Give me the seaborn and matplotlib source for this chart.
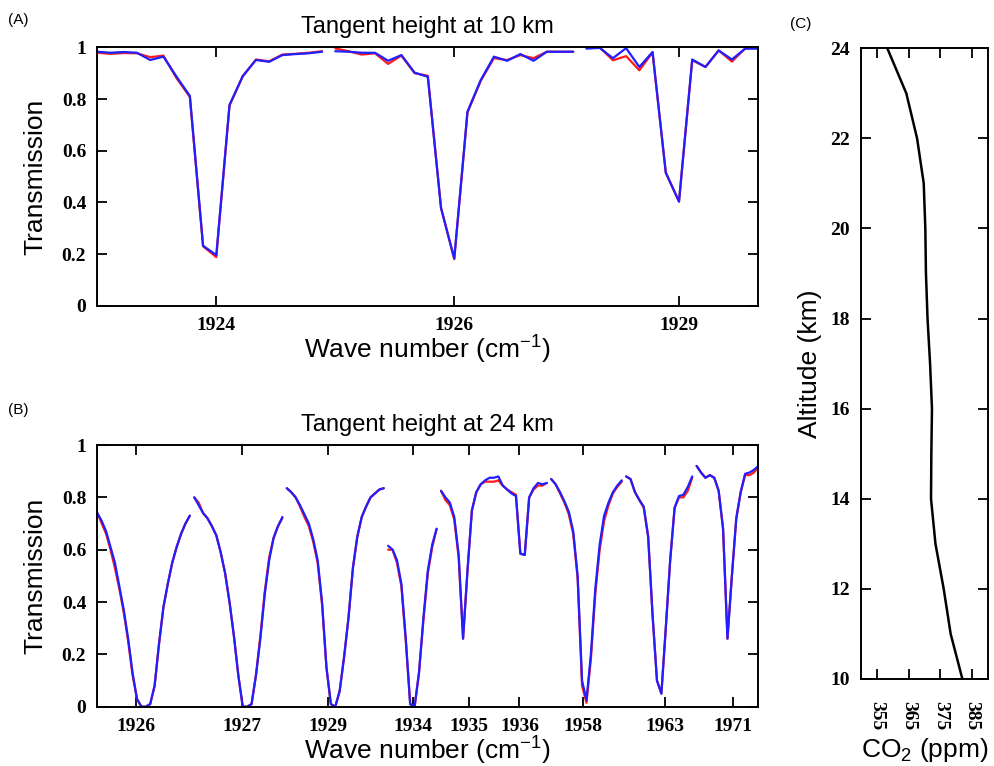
import numpy as np
import pandas as pd
import matplotlib
matplotlib.use("Agg")
import matplotlib.pyplot as plt
import seaborn as sns

# ---------------- data ----------------
# Panel A: tangent height 10 km (three spectral windows, sample-by-sample)
a_blue_segments = [
    [0.983, 0.979, 0.982, 0.979, 0.951, 0.964, 0.886, 0.812, 0.232, 0.196,
     0.777, 0.889, 0.951, 0.944, 0.970, 0.974, 0.977, 0.983],
    [0.985, 0.983, 0.979, 0.979, 0.948, 0.970, 0.902, 0.886, 0.377, 0.183,
     0.751, 0.873, 0.964, 0.948, 0.974, 0.948, 0.983, 0.983, 0.983],
    [0.995, 0.998, 0.958, 0.997, 0.924, 0.982, 0.515, 0.403, 0.953, 0.924,
     0.988, 0.953, 0.995, 0.995],
]
a_red_segments = [
    [0.979, 0.975, 0.978, 0.977, 0.962, 0.968, 0.880, 0.808, 0.230, 0.188,
     0.775, 0.887, 0.953, 0.946, 0.972, 0.975, 0.979, 0.985],
    [0.996, 0.985, 0.972, 0.977, 0.936, 0.968, 0.900, 0.890, 0.380, 0.180,
     0.748, 0.870, 0.958, 0.951, 0.970, 0.958, 0.983, 0.983, 0.983],
    [0.998, 1.000, 0.950, 0.966, 0.911, 0.980, 0.515, 0.403, 0.950, 0.924,
     0.988, 0.945, 0.995, 0.998],
]
a_tick_pos = [9, 27, 44]
a_tick_labels = ["1924", "1926", "1929"]

# Panel B: tangent height 24 km (eight spectral windows)
b_blue_segments = [
    [0.74, 0.71, 0.67, 0.61, 0.55, 0.46, 0.37, 0.26, 0.13, 0.03, 0.0, 0.0,
     0.01, 0.08, 0.24, 0.38, 0.47, 0.55, 0.61, 0.66, 0.70, 0.73],
    [0.80, 0.77, 0.74, 0.72, 0.69, 0.655, 0.59, 0.51, 0.40, 0.27, 0.12, 0.0,
     0.0, 0.01, 0.12, 0.26, 0.43, 0.56, 0.645, 0.69, 0.725],
    [0.835, 0.82, 0.80, 0.77, 0.735, 0.70, 0.64, 0.56, 0.40, 0.15, 0.01, 0.0,
     0.06, 0.19, 0.34, 0.53, 0.65, 0.725, 0.765, 0.80, 0.815, 0.83, 0.835],
    [0.615, 0.60, 0.56, 0.47, 0.26, 0.01, 0.0, 0.13, 0.34, 0.52, 0.62, 0.68],
    [0.825, 0.80, 0.78, 0.725, 0.58, 0.26, 0.52, 0.75, 0.82, 0.85, 0.865,
     0.875, 0.875, 0.88, 0.845, 0.83, 0.815, 0.805, 0.585, 0.58, 0.80, 0.835,
     0.855, 0.85, 0.855],
    [0.87, 0.85, 0.82, 0.785, 0.745, 0.67, 0.50, 0.10, 0.025, 0.20, 0.45,
     0.62, 0.73, 0.78, 0.82, 0.845, 0.865],
    [0.88, 0.87, 0.82, 0.79, 0.765, 0.65, 0.35, 0.10, 0.05, 0.30, 0.56, 0.76,
     0.805, 0.81, 0.84, 0.88],
    [0.92, 0.895, 0.875, 0.885, 0.875, 0.825, 0.68, 0.26, 0.50, 0.72, 0.82,
     0.89, 0.895, 0.905, 0.92],
]
b_red_segments = [
    [0.74, 0.70, 0.66, 0.60, 0.53, 0.45, 0.36, 0.25, 0.12, 0.03, 0.0, 0.0,
     0.01, 0.08, 0.24, 0.38, 0.47, 0.55, 0.61, 0.66, 0.70, 0.73],
    [0.80, 0.78, 0.74, 0.72, 0.69, 0.655, 0.59, 0.51, 0.40, 0.27, 0.12, 0.0,
     0.0, 0.01, 0.12, 0.27, 0.44, 0.57, 0.645, 0.69, 0.72],
    [0.835, 0.82, 0.80, 0.765, 0.725, 0.69, 0.63, 0.55, 0.39, 0.15, 0.01, 0.0,
     0.06, 0.19, 0.34, 0.53, 0.65, 0.725, 0.765, 0.80, 0.815, 0.83, 0.835],
    [0.60, 0.60, 0.55, 0.46, 0.25, 0.01, 0.0, 0.13, 0.33, 0.51, 0.61, 0.68],
    [0.825, 0.79, 0.77, 0.715, 0.57, 0.26, 0.52, 0.75, 0.82, 0.85, 0.86,
     0.86, 0.86, 0.865, 0.845, 0.83, 0.82, 0.81, 0.585, 0.58, 0.80, 0.83,
     0.845, 0.845, 0.855],
    [0.87, 0.85, 0.815, 0.78, 0.735, 0.66, 0.49, 0.08, 0.015, 0.18, 0.43,
     0.60, 0.71, 0.77, 0.815, 0.84, 0.86],
    [0.88, 0.87, 0.82, 0.79, 0.76, 0.65, 0.35, 0.10, 0.05, 0.30, 0.56, 0.76,
     0.80, 0.80, 0.825, 0.875],
    [0.92, 0.895, 0.875, 0.885, 0.875, 0.825, 0.68, 0.26, 0.50, 0.72, 0.82,
     0.885, 0.885, 0.895, 0.915],
]
b_tick_pos = [8.7, 32.9, 52.3, 71.7, 84.3, 95.8, 110.3, 128.8, 144.3]
b_tick_labels = ["1926", "1927", "1929", "1934", "1935", "1936", "1958",
                 "1963", "1971"]

# Panel C: CO2 profile
altitude_km = [10, 11, 12, 13, 14, 15, 16, 17, 18, 19, 20, 21, 22, 23, 24]
co2_ppm = [382.0, 378.3, 376.1, 373.5, 372.1, 372.2, 372.4, 371.8, 371.0,
           370.5, 370.3, 369.8, 367.7, 364.3, 358.3]

trans_yticks = [0, 0.2, 0.4, 0.6, 0.8, 1]
trans_ylabels = ["0", "0.2", "0.4", "0.6", "0.8", "1"]
alt_ticks = [10, 12, 14, 16, 18, 20, 22, 24]
co2_ticks = [355, 365, 375, 385]

# ---------------- style ----------------
sns.set_theme(style="ticks")
plt.rcParams["font.family"] = ["Liberation Sans", "DejaVu Sans"]
plt.rcParams["axes.linewidth"] = 1.4
plt.rcParams["axes.edgecolor"] = "black"
plt.rcParams["text.color"] = "black"
plt.rcParams["axes.labelcolor"] = "black"
plt.rcParams["xtick.color"] = "black"
plt.rcParams["ytick.color"] = "black"
plt.rcParams["mathtext.default"] = "regular"

RED = "#ff1a1a"
BLUE = "#1f1fff"
TICKFONT = dict(fontfamily="Liberation Serif", fontweight="bold", fontsize=14)
LABELSIZE = 19

fig = plt.figure(figsize=(9.94, 7.66), dpi=100)
axA = fig.add_axes([0.0979, 0.6009, 0.665, 0.3373])
axB = fig.add_axes([0.0979, 0.0774, 0.665, 0.3416])
axC = fig.add_axes([0.8662, 0.1136, 0.1275, 0.8234])


def build_frame(red_segs, blue_segs):
    rows = []
    start = 0
    for k, (r, b) in enumerate(zip(red_segs, blue_segs)):
        pos = np.arange(start, start + len(b))
        for p, v in zip(pos, r):
            rows.append((k, p, v, "red"))
        for p, v in zip(pos, b):
            rows.append((k, p, v, "blue"))
        start += len(b)
    return pd.DataFrame(rows, columns=["seg", "pos", "value", "series"]), start - 1


def draw_spectrum(ax, red_segs, blue_segs, tick_pos, tick_labels, title):
    df, last = build_frame(red_segs, blue_segs)
    for k, sub in df.groupby("seg"):
        sns.lineplot(data=sub, x="pos", y="value", hue="series",
                     hue_order=["red", "blue"],
                     palette={"red": RED, "blue": BLUE},
                     estimator=None, sort=False, legend=False,
                     linewidth=1.6, ax=ax)
    ax.set_xlim(0, last)
    ax.set_ylim(0, 1)
    ax.set_xticks(tick_pos, tick_labels, **TICKFONT)
    ax.set_yticks(trans_yticks, trans_ylabels, **TICKFONT)
    ax.tick_params(direction="in", length=7, width=1.3, top=True, right=True,
                   pad=8, colors="black")
    ax.set_xlabel("Wave number (cm$^{\\mathregular{-1}}$)", fontsize=LABELSIZE,
                  labelpad=0)
    ax.set_ylabel("Transmission", fontsize=LABELSIZE, labelpad=10)
    ax.set_title(title, fontsize=17, pad=10, color="black")


draw_spectrum(axA, a_red_segments, a_blue_segments, a_tick_pos, a_tick_labels,
              "Tangent height at 10 km")
draw_spectrum(axB, b_red_segments, b_blue_segments, b_tick_pos, b_tick_labels,
              "Tangent height at 24 km")

# Panel C
dfc = pd.DataFrame({"altitude": altitude_km, "co2": co2_ppm})
sns.lineplot(data=dfc, x="co2", y="altitude", orient="y", sort=False,
             estimator=None, color="black", linewidth=1.8, ax=axC)
axC.set_xlim(350, 390)
axC.set_ylim(10, 24)
axC.set_xticks(co2_ticks, [str(t) for t in co2_ticks], rotation=-90, **TICKFONT)
axC.set_yticks(alt_ticks, [str(t) for t in alt_ticks], **TICKFONT)
axC.tick_params(direction="in", length=7, width=1.3, top=True, right=True,
                pad=8, colors="black")
axC.tick_params(axis="x", pad=16)
axC.set_xlabel("CO$_2$ (ppm)", fontsize=LABELSIZE, labelpad=4)
axC.set_ylabel("Altitude (km)", fontsize=LABELSIZE, labelpad=6)

for ax in (axA, axB, axC):
    for s in ax.spines.values():
        s.set_color("black")
        s.set_linewidth(1.4)

fig.text(8 / 994, 1 - 20 / 766, "(A)", fontsize=11, va="center", ha="left")
fig.text(8 / 994, 1 - 410 / 766, "(B)", fontsize=11, va="center", ha="left")
fig.text(790 / 994, 1 - 24 / 766, "(C)", fontsize=11, va="center", ha="left")

fig.savefig("out.png", dpi=100)
